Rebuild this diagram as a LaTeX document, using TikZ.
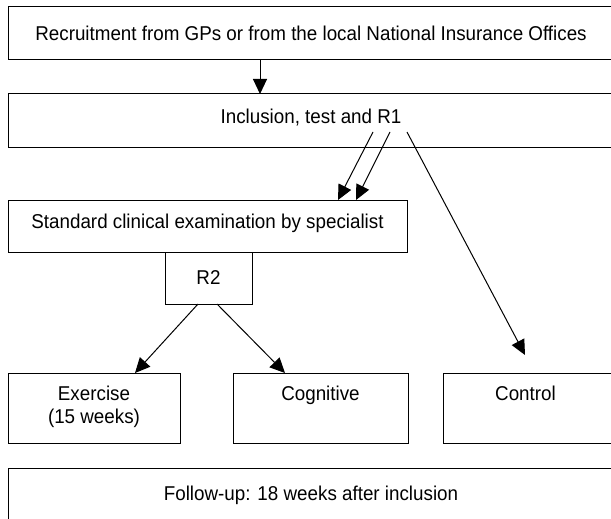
\documentclass[tikz,border=0pt]{standalone}
\usepackage{fontspec}
\setmainfont[FakeStretch=0.94]{Liberation Sans}
\usetikzlibrary{arrows.meta}
\tikzset{
  box/.style={draw, rectangle, inner sep=0pt, outer sep=0pt, font=\fontsize{20}{23}\selectfont},
  boxtext/.style={inner sep=0pt, align=center, anchor=north, font=\fontsize{20}{23}\selectfont},
}
\begin{document}
\begin{tikzpicture}[x=1pt,y=-1pt,line width=1pt,>={Triangle[length=15pt,width=14pt]}]
  \useasboundingbox (0,0) rectangle (611,519);
  \clip (0,0) rectangle (611,519);
  % top boxes
  \node[box, minimum width=606, minimum height=53] (recruit) at (311,33.5) {Recruitment from GPs or from the local National Insurance Offices};
  \node[box, minimum width=606, minimum height=53, text depth=9pt] (incl) at (311,120.5) {Inclusion, test and R1};
  \node[box, minimum width=399, minimum height=52, text depth=9pt] (exam) at (207.5,226) {Standard clinical examination by specialist};
  \node[box, minimum width=87, minimum height=52] (rtwo) at (208.5,278) {R2};
  % groups
  \node[box, minimum width=172, minimum height=70] (exer) at (94,408) {};
  \node[box, minimum width=175, minimum height=70] (cogn) at (320.5,408) {};
  \node[box, minimum width=171, minimum height=70] (ctrl) at (528.5,408) {};
  \node[boxtext] (exertext) at ([yshift=-13pt]exer.north) {Exercise\\(15 weeks)};
  \node[boxtext] (cogntext) at ([yshift=-13pt]cogn.north) {Cognitive};
  \node[boxtext] (ctrltext) at ([yshift=-13pt,xshift=-3pt]ctrl.north) {Control};
  \node[box, minimum width=606, minimum height=54] (follow) at (311,495) {Follow-up: 18 weeks after inclusion};
  % arrows
  \coordinate (downx) at (260,0);
  \draw[->] (downx |- recruit.south) -- (downx |- incl.north);
  \coordinate (rone) at (373,132);
  \coordinate (rtwostart) at (390,132);
  \coordinate (rthree) at (407,132);
  \coordinate (ctrltip) at (525,355);
  \draw[->] (rone) -- ([xshift=130.5pt]exam.north);
  \draw[->] (rtwostart) -- ([xshift=148.5pt]exam.north);
  \draw[->] (rthree) -- (ctrltip);
  \draw[->] ([xshift=-10.5pt]rtwo.south) -- ([xshift=41pt]exer.north);
  \draw[->] ([xshift=8.5pt]rtwo.south) -- ([xshift=-35.5pt]cogn.north);
\end{tikzpicture}
\end{document}
